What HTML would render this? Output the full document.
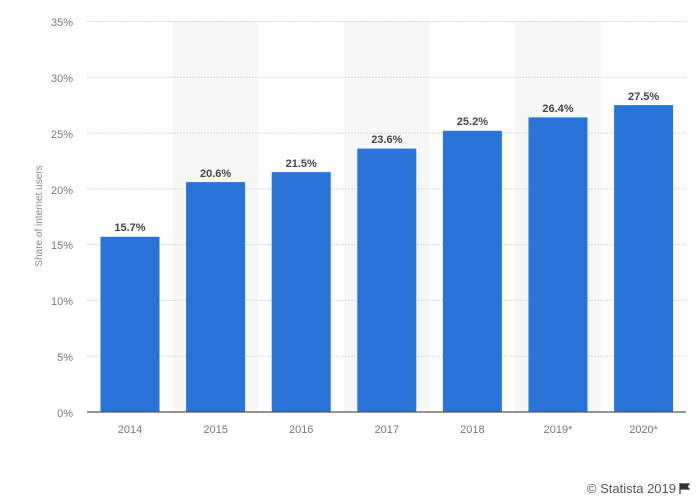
<!DOCTYPE html><html><head><style>body{margin:0;background:#fff}svg{display:block}text{font-family:"Liberation Sans","DejaVu Sans",sans-serif}</style></head><body>
<svg width="700" height="502" viewBox="0 0 700 502">
<g fill="#f7f7f7">
<rect x="172.6" y="21.5" width="85.6" height="390.5"/>
<rect x="343.8" y="21.5" width="85.6" height="390.5"/>
<rect x="515" y="21.5" width="85.6" height="390.5"/>
</g>
<g stroke="#d8d8d8" stroke-dasharray="2,1" stroke-width="1">
<line x1="87" x2="686" y1="21.5" y2="21.5"/><line x1="87" x2="686" y1="77.3" y2="77.3"/><line x1="87" x2="686" y1="133.1" y2="133.1"/><line x1="87" x2="686" y1="188.9" y2="188.9"/><line x1="87" x2="686" y1="244.6" y2="244.6"/><line x1="87" x2="686" y1="300.4" y2="300.4"/><line x1="87" x2="686" y1="356.2" y2="356.2"/>
</g>
<g fill="#777" font-size="11" text-anchor="end">
<text x="73" y="26">35%</text><text x="73" y="82">30%</text><text x="73" y="138">25%</text><text x="73" y="194">20%</text><text x="73" y="249">15%</text><text x="73" y="305">10%</text><text x="73" y="361">5%</text><text x="73" y="417">0%</text>
</g>
<text transform="translate(42,216) rotate(-90)" fill="#888" font-size="10" text-anchor="middle">Share of internet users</text>
<g fill="#2874d8">
<rect x="100.5" y="236.8" width="59" height="175.2"/>
<rect x="186.1" y="182.1" width="59" height="229.9"/>
<rect x="271.7" y="172.1" width="59" height="239.9"/>
<rect x="357.3" y="148.6" width="59" height="263.4"/>
<rect x="442.9" y="130.8" width="59" height="281.2"/>
<rect x="528.5" y="117.4" width="59" height="294.6"/>
<rect x="614.1" y="105.1" width="59" height="306.9"/>
</g>
<line x1="87" x2="686" y1="412" y2="412" stroke="#555" stroke-width="1.2"/>
<g fill="#444" font-size="11" font-weight="bold" text-anchor="middle">
<text x="130" y="231">15.7%</text><text x="215.6" y="177">20.6%</text><text x="301.2" y="167">21.5%</text><text x="386.8" y="143">23.6%</text><text x="472.4" y="125">25.2%</text><text x="558" y="112">26.4%</text><text x="643.6" y="100">27.5%</text>
</g>
<g fill="#777" font-size="11" text-anchor="middle">
<text x="130" y="433">2014</text><text x="215.6" y="433">2015</text><text x="301.2" y="433">2016</text><text x="386.8" y="433">2017</text><text x="472.4" y="433">2018</text><text x="558" y="433">2019*</text><text x="643.6" y="433">2020*</text>
</g>
<text x="676" y="493" fill="#555" font-size="13" text-anchor="end">© Statista 2019</text>
<path d="M680 483v11M681 484h8l-2 2.5 2 2.5h-8z" stroke="#333" stroke-width="1.2" fill="#333"/>
</svg></body></html>
